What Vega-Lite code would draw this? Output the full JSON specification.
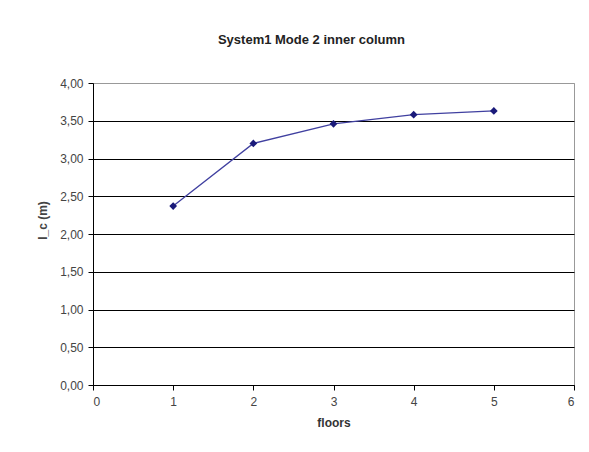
{
  "$schema": "https://vega.github.io/schema/vega-lite/v6.json",
  "autosize": "none",
  "width": 481,
  "height": 302,
  "padding": {"left": 93, "top": 83, "right": 14, "bottom": 67},
  "background": "white",
  "title": {
    "text": "System1 Mode 2 inner column",
    "font": "Liberation Sans",
    "fontSize": 13,
    "fontWeight": "bold",
    "color": "#222222",
    "offset": 30,
    "dx": -22
  },
  "data": {
    "values": [
      {"floors": 1, "lc": 2.37},
      {"floors": 2, "lc": 3.20},
      {"floors": 3, "lc": 3.46},
      {"floors": 4, "lc": 3.58},
      {"floors": 5, "lc": 3.63}
    ]
  },
  "mark": {
    "type": "line",
    "color": "#4040a0",
    "strokeWidth": 1.3,
    "point": {"shape": "diamond", "size": 60, "filled": true, "color": "#1a1a7a"}
  },
  "encoding": {
    "x": {
      "field": "floors",
      "type": "quantitative",
      "scale": {"domain": [0, 6], "nice": false},
      "axis": {
        "title": "floors",
        "values": [0, 1, 2, 3, 4, 5, 6],
        "format": "d",
        "grid": false,
        "domainColor": "black",
        "tickColor": "black",
        "tickSize": 5,
        "labelPadding": 6,
        "labelFont": "Liberation Sans",
        "labelFontSize": 12,
        "labelColor": "#444444",
        "titleFont": "Liberation Sans",
        "titleFontSize": 12,
        "titleFontWeight": "bold",
        "titleColor": "#333333",
        "titlePadding": 10
      }
    },
    "y": {
      "field": "lc",
      "type": "quantitative",
      "scale": {"domain": [0, 4], "nice": false},
      "axis": {
        "title": "l_c (m)",
        "values": [0, 0.5, 1, 1.5, 2, 2.5, 3, 3.5, 4],
        "labelExpr": "replace(format(datum.value, '.2f'), '.', ',')",
        "grid": true,
        "gridColor": {"condition": {"test": "datum.value == 4", "value": "#999999"}, "value": "black"},
        "gridWidth": 1,
        "domainColor": "black",
        "tickColor": "black",
        "tickSize": 5,
        "labelPadding": 5,
        "labelFont": "Liberation Sans",
        "labelFontSize": 12,
        "labelColor": "#444444",
        "titleFont": "Liberation Sans",
        "titleFontSize": 12,
        "titleFontWeight": "bold",
        "titleColor": "#444444",
        "titlePadding": 10,
        "titleY": 137
      }
    }
  },
  "config": {
    "view": {"stroke": "#999999", "strokeWidth": 1}
  }
}
